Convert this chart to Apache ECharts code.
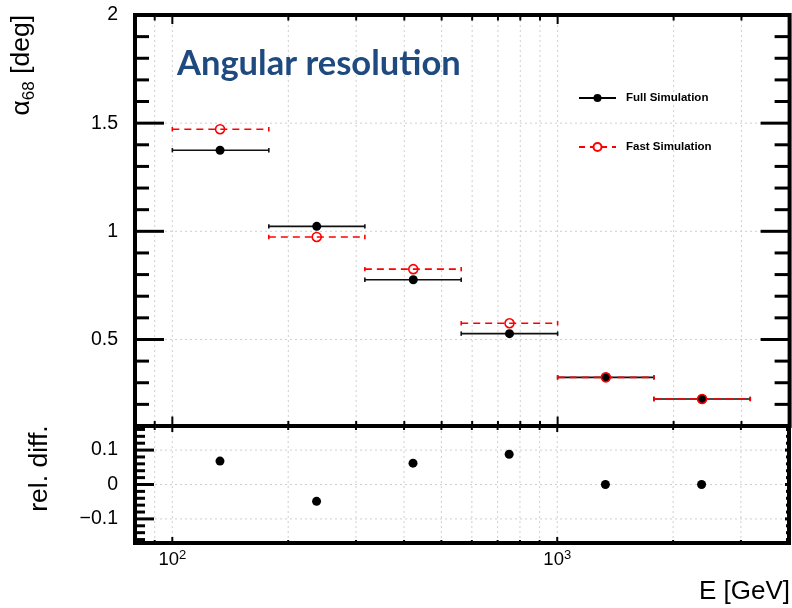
<!DOCTYPE html>
<html><head><meta charset="utf-8">
<script src="https://cdn.jsdelivr.net/npm/echarts@6/dist/echarts.min.js"></script>
<style>html,body{margin:0;padding:0;background:#fff}#c{width:792px;height:608px}</style>
</head><body><div id="c"></div>
<script>
// ---- data ----
const energy  = [133, 237, 422, 750, 1334, 2371];
const binLow  = [100, 178, 316, 562, 1000, 1778];
const binHigh = [178, 316, 562, 1000, 1778, 3162];
const fullSim = [1.375, 1.023, 0.776, 0.527, 0.325, 0.225];
const fastSim = [1.472, 0.974, 0.825, 0.575, 0.325, 0.225];
const relDiff = [0.068, -0.049, 0.062, 0.088, 0.0, 0.0];

// ---- ticks / labels ----
const xMajorTicks = [100, 1000];
const xMinorTicks = [90, 200, 300, 400, 500, 600, 700, 800, 900, 2000, 3000];
const xTickLabels = ['10{s|2}', '10{s|3}'];
const yTopMajorTicks = [0.5, 1, 1.5];
const yTopMinorTicks = [0.2, 0.3, 0.4, 0.6, 0.7, 0.8, 0.9, 1.1, 1.2, 1.3, 1.4, 1.6, 1.7, 1.8, 1.9];
const yTopLabelValues = [0.5, 1, 1.5, 2];
const yTopLabels = ['0.5', '1', '1.5', '2'];
const yBotMajorTicks = [-0.1, 0, 0.1];
const yBotMinorTicks = [-0.16, -0.14, -0.12, -0.08, -0.06, -0.04, -0.02, 0.02, 0.04, 0.06, 0.08, 0.12, 0.14, 0.16];
const yBotLabelValues = [-0.1, 0, 0.1];
const yBotLabels = ['\u22120.1', '0', '0.1'];

const FONT = 'Liberation Sans';
const X_MIN = 80, X_MAX = 4000;
const Y_TOP = [0.1, 2], Y_BOT = [-0.17, 0.17];

function pickLabel(vals, labels, tol) {
  return v => { for (let i = 0; i < vals.length; i++) if (Math.abs(v - vals[i]) < tol) return labels[i]; return ''; };
}

function xTickSeries(gi, vals, lenTop, lenBot, w) {
  const yRef = gi === 0 ? Y_TOP[0] : Y_BOT[0];
  return {
    type: 'custom', xAxisIndex: gi, yAxisIndex: gi, z: 1, silent: true,
    data: vals.map(v => [v, yRef]),
    renderItem: (params, api) => {
      const cs = params.coordSys;
      const x = api.coord([api.value(0), api.value(1)])[0];
      const t = cs.y, b = cs.y + cs.height;
      return { type: 'group', children: [
        { type: 'line', shape: { x1: x, y1: t, x2: x, y2: b }, style: { stroke: '#cfcfcf', lineWidth: 1, lineDash: [2, 3] } },
        { type: 'line', shape: { x1: x, y1: t, x2: x, y2: t + lenTop }, style: { stroke: '#000', lineWidth: w } },
        { type: 'line', shape: { x1: x, y1: b, x2: x, y2: b - lenBot }, style: { stroke: '#000', lineWidth: w } }
      ]};
    }
  };
}
function yTickSeries(gi, vals, lenL, lenR, w, grid) {
  return {
    type: 'custom', xAxisIndex: gi, yAxisIndex: gi, z: 1, silent: true,
    data: vals.map(v => [X_MIN, v]),
    renderItem: (params, api) => {
      const cs = params.coordSys;
      const y = api.coord([api.value(0), api.value(1)])[1];
      const l = cs.x, r = cs.x + cs.width;
      const ch = [
        { type: 'line', shape: { x1: l, y1: y, x2: l + lenL, y2: y }, style: { stroke: '#000', lineWidth: w } },
        { type: 'line', shape: { x1: r, y1: y, x2: r - lenR, y2: y }, style: { stroke: '#000', lineWidth: w } }
      ];
      if (grid) ch.unshift({ type: 'line', shape: { x1: l, y1: y, x2: r, y2: y }, style: { stroke: '#cfcfcf', lineWidth: 1, lineDash: [2, 3] } });
      return { type: 'group', children: ch };
    }
  };
}
function errSeries(name, vals, color, dash, cap) {
  return {
    type: 'custom', name: name, xAxisIndex: 0, yAxisIndex: 0, z: 2, silent: true,
    data: vals.map((v, i) => [binLow[i], binHigh[i], v]),
    encode: { x: [0, 1], y: 2 },
    renderItem: (params, api) => {
      const p1 = api.coord([api.value(0), api.value(2)]);
      const p2 = api.coord([api.value(1), api.value(2)]);
      const st = { stroke: color, lineWidth: 1.6 };
      return { type: 'group', children: [
        { type: 'line', shape: { x1: p1[0], y1: p1[1], x2: p2[0], y2: p2[1] }, style: Object.assign({ lineDash: dash }, st) },
        { type: 'line', shape: { x1: p1[0], y1: p1[1] - cap, x2: p1[0], y2: p1[1] + cap }, style: st },
        { type: 'line', shape: { x1: p2[0], y1: p2[1] - cap, x2: p2[0], y2: p2[1] + cap }, style: st }
      ]};
    }
  };
}

const chart = echarts.init(document.getElementById('c'), null, { renderer: 'canvas' });
const axisCommon = { axisLine: { show: false }, axisTick: { show: false }, splitLine: { show: false } };

chart.setOption({
  backgroundColor: '#fff',
  animation: false,
  title: {
    text: 'Angular resolution', left: 172, top: 41,
    textStyle: { fontFamily: 'Lato', fontWeight: 'bold', fontSize: 34.5, color: '#1f4a7f' }
  },
  legend: {
    orient: 'vertical', left: 573, top: 87, itemWidth: 37, itemHeight: 10, itemGap: 37,
    selectedMode: false,
    data: ['Full Simulation', 'Fast Simulation'],
    textStyle: { fontFamily: FONT, fontWeight: 'bold', fontSize: 11.5, color: '#000', padding: [0, 0, 0, 5] }
  },
  graphic: [
    { type: 'text', right: 2, top: 579, silent: true,
      style: { text: 'E [GeV]', fontFamily: FONT, fontSize: 26, fill: '#000' } }
  ],
  grid: [
    { left: 135, right: 2.4, top: 15, height: 411, show: true, borderColor: '#000', borderWidth: 4, backgroundColor: 'transparent' },
    { left: 135, right: 2.4, top: 426, height: 117, show: true, borderColor: '#000', borderWidth: 4, backgroundColor: 'transparent' }
  ],
  xAxis: [
    Object.assign({ type: 'log', logBase: 10, gridIndex: 0, min: X_MIN, max: X_MAX, axisLabel: { show: false } }, axisCommon),
    Object.assign({ type: 'log', logBase: 10, gridIndex: 1, min: X_MIN, max: X_MAX,
      axisLabel: {
        margin: 6, color: '#000', fontFamily: FONT,
        formatter: v => { for (let i = 0; i < xMajorTicks.length; i++) if (Math.abs(v / xMajorTicks[i] - 1) < 1e-6) return '{b|' + xTickLabels[i].replace('{s|', '}{s|'); return ''; },
        rich: {
          b: { fontFamily: FONT, fontSize: 18.5, lineHeight: 22, color: '#000' },
          s: { fontFamily: FONT, fontSize: 13, lineHeight: 13, verticalAlign: 'top', color: '#000' }
        }
      } }, axisCommon)
  ],
  yAxis: [
    Object.assign({ type: 'value', gridIndex: 0, min: Y_TOP[0], max: Y_TOP[1], interval: 0.1,
      name: '{a|\u03b1}{s|68}{a| [deg]}', nameLocation: 'end', nameGap: 0, nameRotate: 90,
      nameTextStyle: { align: 'right', verticalAlign: 'middle', padding: [0, 0, 226, 0],
        rich: {
          a: { fontFamily: FONT, fontSize: 26.5, lineHeight: 31, color: '#000' },
          s: { fontFamily: FONT, fontSize: 17, lineHeight: 17, verticalAlign: 'bottom', color: '#000' }
        } },
      axisLabel: { margin: 17, fontFamily: FONT, fontSize: 19.5, color: '#000', padding: [3, 0, 0, 0],
        formatter: pickLabel(yTopLabelValues, yTopLabels, 1e-6) } }, axisCommon),
    Object.assign({ type: 'value', gridIndex: 1, min: Y_BOT[0], max: Y_BOT[1], interval: 0.01,
      name: 'rel. diff.', nameLocation: 'middle', nameGap: 82, nameRotate: 90,
      nameTextStyle: { fontFamily: FONT, fontSize: 26.5, color: '#000', padding: [0, 0, 0, 32] },
      axisLabel: { margin: 17, fontFamily: FONT, fontSize: 19.5, color: '#000', padding: [3, 0, 0, 0],
        formatter: pickLabel(yBotLabelValues, yBotLabels, 1e-6) } }, axisCommon)
  ],
  series: [
    xTickSeries(0, xMajorTicks, 9, 9.5, 2),
    xTickSeries(0, xMinorTicks, 5.5, 5, 2),
    yTickSeries(0, yTopMajorTicks, 29, 29, 3, true),
    yTickSeries(0, yTopMinorTicks, 14, 15, 3, false),
    xTickSeries(1, xMajorTicks, 6, 6, 2),
    xTickSeries(1, xMinorTicks, 4, 3, 2),
    yTickSeries(1, yBotMajorTicks, 19, 4, 3, true),
    yTickSeries(1, yBotMinorTicks, 10, 3, 3, false),

    errSeries('full-err', fullSim, '#111', null, 2.2),
    { type: 'scatter', name: 'full-pts', xAxisIndex: 0, yAxisIndex: 0, z: 3, symbol: 'circle', symbolSize: 9,
      itemStyle: { color: '#000', opacity: 1 }, data: energy.map((e, i) => [e, fullSim[i]]) },
    errSeries('fast-err', fastSim, '#ff0000', [7, 5], 2.2),
    { type: 'scatter', name: 'fast-pts', xAxisIndex: 0, yAxisIndex: 0, z: 4, symbol: 'circle', symbolSize: 9,
      itemStyle: { color: 'rgba(0,0,0,0)', borderColor: '#ff0000', borderWidth: 1.6, opacity: 1 }, data: energy.map((e, i) => [e, fastSim[i]]) },
    { type: 'scatter', name: 'rel-diff', xAxisIndex: 1, yAxisIndex: 1, z: 3, symbol: 'circle', symbolSize: 9,
      itemStyle: { color: '#000', opacity: 1 }, data: energy.map((e, i) => [e, relDiff[i]]) },

    { type: 'line', name: 'Full Simulation', xAxisIndex: 0, yAxisIndex: 0, data: [], symbol: 'circle', symbolSize: 9,
      itemStyle: { color: '#000' }, lineStyle: { color: '#000', width: 1.5 } },
    { type: 'line', name: 'Fast Simulation', xAxisIndex: 0, yAxisIndex: 0, data: [], symbol: 'emptyCircle', symbolSize: 9,
      itemStyle: { color: '#ff0000' }, lineStyle: { color: '#ff0000', width: 1.5, type: [6, 5] } }
  ]
});
</script></body></html>
